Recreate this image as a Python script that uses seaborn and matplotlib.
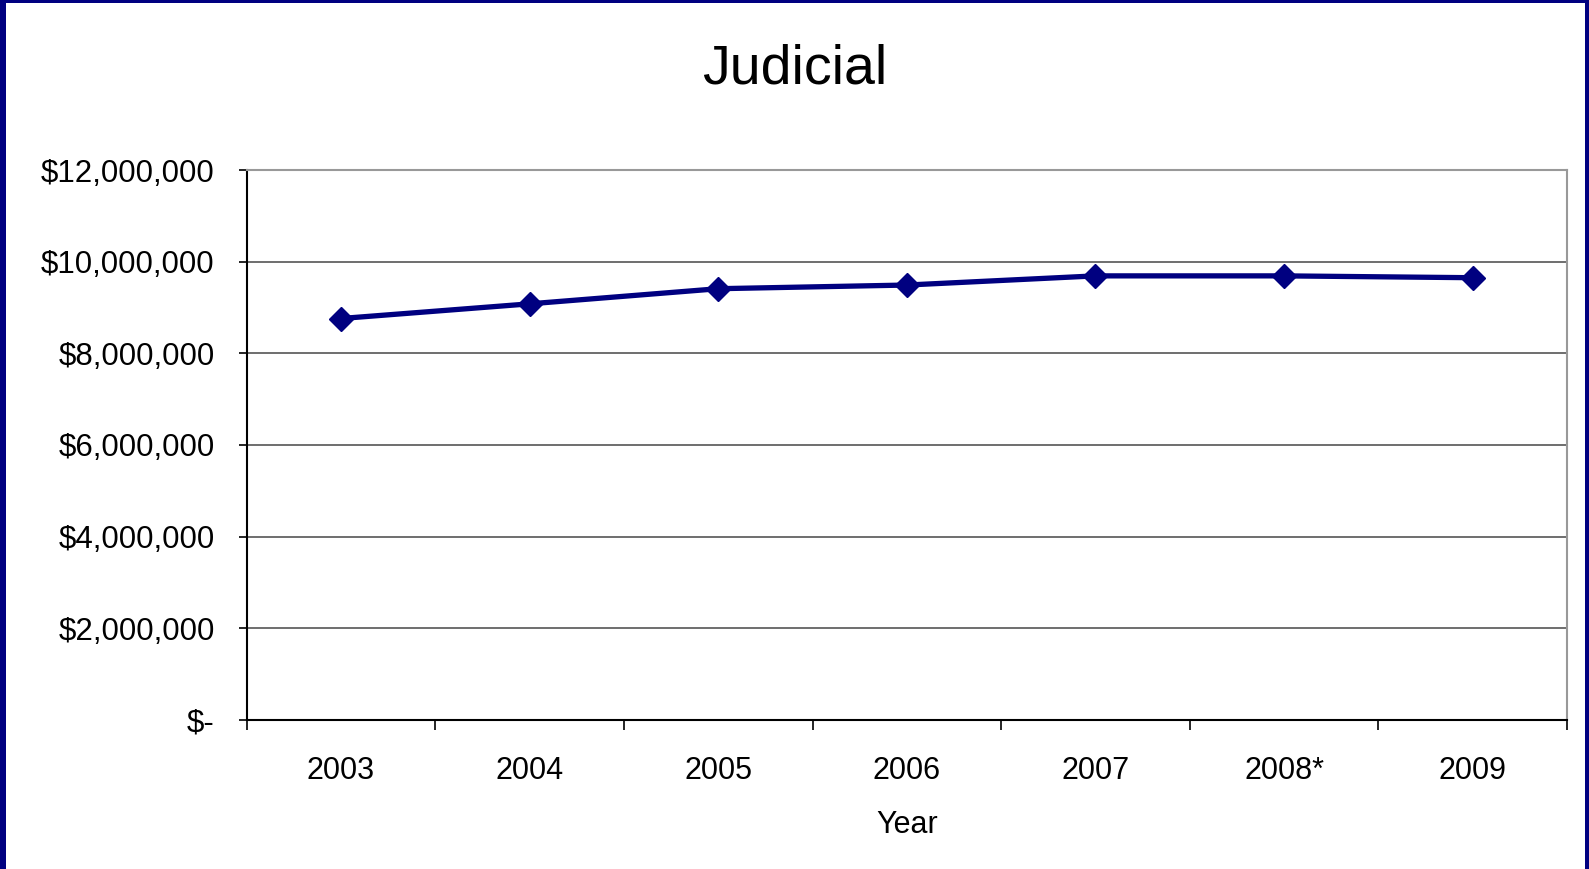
import matplotlib
matplotlib.use("Agg")
import matplotlib.pyplot as plt
import matplotlib.patches as mpatches
from matplotlib.ticker import FuncFormatter, FixedLocator
import seaborn as sns
import pandas as pd

years = ["2003", "2004", "2005", "2006", "2007", "2008*", "2009"]
spending = [8760000, 9080000, 9410000, 9490000, 9690000, 9690000, 9650000]
y_ticks = [0, 2000000, 4000000, 6000000, 8000000, 10000000, 12000000]

sns.set_theme(style="white")
plt.rcParams['font.family'] = ['Liberation Sans', 'DejaVu Sans']
plt.rcParams['text.color'] = 'black'
plt.rcParams['xtick.color'] = 'black'
plt.rcParams['ytick.color'] = 'black'

W, H = 1589, 869
fig = plt.figure(figsize=(W / 100, H / 100), dpi=100)
fig.patch.set_facecolor("white")
ax = fig.add_axes([246.7 / W, 1 - 720 / H, (1567 - 246.7) / W, (720 - 170) / H])

df = pd.DataFrame({"Year": years, "Amount": spending})
sns.lineplot(data=df, x="Year", y="Amount", ax=ax, color="#000080", linewidth=3.8,
             marker="D", markersize=12, markeredgewidth=1, markeredgecolor="#000080",
             sort=False)

n = len(years)
ax.set_xlim(-0.5, n - 0.5)
ax.set_ylim(0, 12000000)

# y axis
ax.yaxis.set_major_locator(FixedLocator(y_ticks))
ax.yaxis.set_major_formatter(FuncFormatter(lambda v, p: "$-" if v == 0 else f"${v:,.0f}"))
ax.tick_params(axis="y", which="major", direction="out", length=6, width=1.2,
               color="black", labelcolor="black", labelsize=22.5, pad=17, left=True)

# x axis: ticks at category boundaries, labels at centers
ax.xaxis.set_major_locator(FixedLocator([i - 0.5 for i in range(n + 1)]))
ax.xaxis.set_minor_locator(FixedLocator(list(range(n))))
ax.set_xticklabels([], minor=False)
ax.set_xticklabels(years, minor=True)
ax.tick_params(axis="x", which="major", direction="out", length=7, width=1.2,
               color="black", bottom=True)
ax.tick_params(axis="x", which="minor", length=0, labelsize=22, pad=26,
               labelcolor="black")

ax.grid(axis="y", color="#555555", linewidth=1.2)
ax.set_axisbelow(True)

for side in ["left", "bottom"]:
    ax.spines[side].set_color("black")
    ax.spines[side].set_linewidth(1.5)
for side in ["top", "right"]:
    ax.spines[side].set_color("#999999")
    ax.spines[side].set_linewidth(1.5)
    ax.spines[side].set_visible(True)

ax.set_xlabel("")
ax.set_ylabel("")

fig.text((246.7 + 1567) / 2 / W, 1 - 833 / H, "Year", ha="center", va="baseline",
         fontsize=22, color="black")
fig.text(0.5, 1 - 83 / H, "Judicial", ha="center", va="baseline",
         fontsize=40, color="black")

navy = "#000080"
fig.patches.append(mpatches.Rectangle((0, 0), 6 / W, 1, transform=fig.transFigure,
                                      facecolor=navy, edgecolor="none", zorder=10))
fig.patches.append(mpatches.Rectangle((0, 1 - 3 / H), 1, 3 / H, transform=fig.transFigure,
                                      facecolor=navy, edgecolor="none", zorder=10))
fig.patches.append(mpatches.Rectangle((1 - 4 / W, 0), 4 / W, 1, transform=fig.transFigure,
                                      facecolor=navy, edgecolor="none", zorder=10))

fig.savefig("out.png", dpi=100, facecolor="white")
